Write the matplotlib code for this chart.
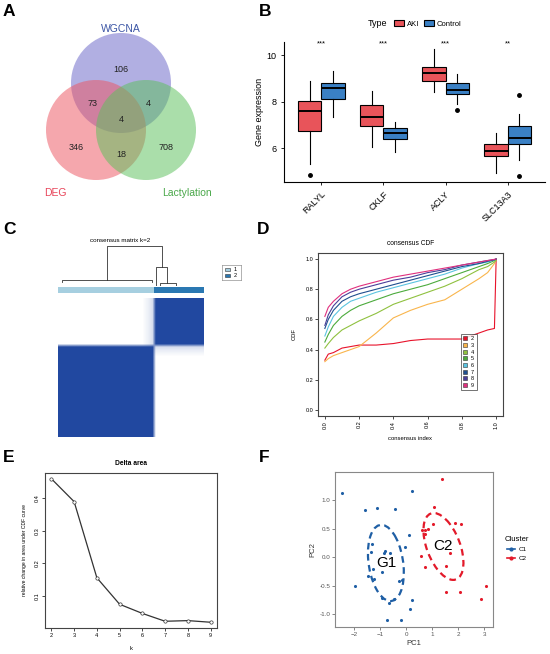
import numpy as np
import matplotlib
matplotlib.use("Agg")
import matplotlib.pyplot as plt
from matplotlib.patches import Circle, Ellipse, Patch, Rectangle
from matplotlib.lines import Line2D
from matplotlib.colors import LinearSegmentedColormap

plt.rcParams['font.family'] = ['Liberation Sans', 'DejaVu Sans']

W, H = 550, 654

# ---------------- data ----------------
# A - Venn
venn_labels = ["WGCNA", "DEG", "Lactylation"]
venn_regions = ["W", "D", "L", "WD", "WL", "DL", "WDL"]
venn_values = [106, 346, 708, 73, 4, 18, 4]

# B - gene expression boxes (whislo, q1, med, q3, whishi)
genes = ["RALYL", "CKLF", "ACLY", "SLC13A3"]
aki_stats = [[5.32, 6.73, 7.61, 8.03, 8.89],
             [6.04, 6.94, 7.35, 7.83, 8.46],
             [8.42, 8.88, 9.21, 9.47, 10.27],
             [4.92, 5.65, 5.87, 6.19, 6.65]]
ctrl_stats = [[7.34, 8.12, 8.58, 8.81, 9.32],
              [5.83, 6.40, 6.66, 6.88, 7.12],
              [7.91, 8.33, 8.50, 8.81, 9.19],
              [5.50, 6.19, 6.43, 6.96, 7.48]]
aki_fliers = [[4.86], [], [], []]
ctrl_fliers = [[], [], [7.63], [8.29, 4.79]]
signif = ["***", "***", "***", "**"]

# C - consensus matrix k=2 (cluster sizes, weak cross-consensus of edge samples)
n_c1 = 29
n_c2 = 15
c1_edge_cross = [0.05, 0.1, 0.18]

# D - consensus CDF
cdf_x = [0, 0.02, 0.05, 0.1, 0.15, 0.2, 0.3, 0.4, 0.5, 0.6, 0.7, 0.8, 0.9, 0.95, 0.99, 1.0]
cdf_k = [2, 3, 4, 5, 6, 7, 8, 9]
cdf_y = [
    [0.33, 0.37, 0.38, 0.41, 0.42, 0.43, 0.43, 0.44, 0.46, 0.47, 0.47, 0.47, 0.51, 0.53, 0.54, 1.0],
    [0.32, 0.34, 0.36, 0.38, 0.40, 0.42, 0.51, 0.61, 0.66, 0.70, 0.73, 0.80, 0.87, 0.91, 0.97, 1.0],
    [0.41, 0.44, 0.48, 0.53, 0.56, 0.59, 0.64, 0.70, 0.74, 0.78, 0.82, 0.87, 0.93, 0.95, 0.98, 0.99],
    [0.45, 0.50, 0.56, 0.62, 0.66, 0.69, 0.73, 0.77, 0.80, 0.83, 0.87, 0.91, 0.95, 0.97, 0.99, 1.0],
    [0.49, 0.55, 0.62, 0.68, 0.72, 0.74, 0.78, 0.81, 0.84, 0.87, 0.90, 0.94, 0.97, 0.98, 0.995, 1.0],
    [0.54, 0.60, 0.66, 0.72, 0.75, 0.77, 0.80, 0.83, 0.86, 0.89, 0.92, 0.95, 0.97, 0.985, 0.995, 1.0],
    [0.56, 0.63, 0.69, 0.75, 0.78, 0.80, 0.83, 0.86, 0.88, 0.91, 0.93, 0.96, 0.98, 0.99, 0.997, 1.0],
    [0.62, 0.68, 0.72, 0.77, 0.80, 0.82, 0.85, 0.88, 0.90, 0.92, 0.94, 0.96, 0.98, 0.99, 0.998, 1.0],
]
cdf_colors = ["#e8132b", "#f9b54c", "#8fc13f", "#4cab3c", "#5bc4e0", "#1f4f8f", "#4a3f9a", "#e0307e"]

# E - delta area
k_vals = [2, 3, 4, 5, 6, 7, 8, 9]
delta_area = [0.459, 0.389, 0.156, 0.075, 0.047, 0.023, 0.025, 0.020]

# F - PCA
c1_pc1 = [-2.45, 0.22, -1.57, -1.10, -0.43, 0.09, -0.06, -0.85, -0.61, -0.82, -1.33, -1.35,
          -1.28, -0.93, -1.48, -1.22, -0.28, -0.17, -1.96, -0.93, -0.48, -0.65, 0.22, 0.13,
          -0.74, -0.20]
c1_pc2 = [1.13, 1.16, 0.84, 0.87, 0.85, 0.39, 0.18, 0.08, 0.07, 0.11, 0.24, 0.10,
          -0.20, -0.26, -0.32, -0.37, -0.42, -0.39, -0.50, -0.71, -0.72, -0.80, -0.75, -0.91,
          -1.09, -1.09]
c2_pc1 = [1.39, 1.05, 0.59, 0.74, 0.82, 0.71, 1.01, 1.88, 2.09, 0.74, 0.57, 1.68, 1.53,
          1.51, 2.08, 2.86, 3.05]
c2_pc2 = [1.37, 0.88, 0.48, 0.49, 0.50, 0.42, 0.59, 0.60, 0.59, -0.17, 0.03, 0.08, -0.15,
          -0.60, -0.60, -0.72, -0.50]

# ---------------- helpers ----------------
fig = plt.figure(figsize=(W / 100, H / 100), dpi=100)


def px_axes(l, t, r, b):
    """axes placed by pixel box (left, top, right, bottom)"""
    return fig.add_axes([l / W, 1 - b / H, (r - l) / W, (b - t) / H])


def panel_letter(x, y, s):
    fig.text(x / W, 1 - y / H, s, fontsize=12.5, fontweight='bold', ha='left', va='center')


# ---------------- A: Venn ----------------
axA = px_axes(0, 0, 275, 210)
axA.set_xlim(0, 275)
axA.set_ylim(210, 0)
axA.axis('off')
centers = [(121, 83), (96, 130), (146, 130)]
fills = ["#6b67c8", "#ec5663", "#5cc05c"]
for (cx, cy), fc in zip(centers, fills):
    axA.add_patch(Circle((cx, cy), 50, facecolor=fc, alpha=0.52, edgecolor='none'))
region_pos = {"W": (121, 69), "D": (76, 147), "L": (166, 147), "WD": (93, 104),
              "WL": (148, 104), "DL": (121, 154), "WDL": (121, 120)}
for reg, val in zip(venn_regions, venn_values):
    x, y = region_pos[reg]
    axA.text(x, y, str(val), fontsize=6.5, ha='center', va='center', color='#222222')
label_pos = [(121, 29), (55, 193), (187, 193)]
label_cols = ["#3b55a5", "#e8455a", "#4aa84a"]
for lab, (x, y), c in zip(venn_labels, label_pos, label_cols):
    axA.text(x, y, lab, fontsize=7.5, ha='center', va='center', color=c)
panel_letter(3, 12, "A")

# ---------------- B: boxplot ----------------
axB = px_axes(284, 42, 545, 182)
aki_col, ctrl_col = "#e8545a", "#3a80c4"
pos = np.arange(1, len(genes) + 1)
for stats_list, fl, off, col in [(aki_stats, aki_fliers, -0.1875, aki_col),
                                  (ctrl_stats, ctrl_fliers, 0.1875, ctrl_col)]:
    bstats = []
    for s, f in zip(stats_list, fl):
        bstats.append(dict(whislo=s[0], q1=s[1], med=s[2], q3=s[3], whishi=s[4], fliers=f))
    axB.bxp(bstats, positions=pos + off, widths=0.375, patch_artist=True, showcaps=False,
            boxprops=dict(facecolor=col, edgecolor='black', linewidth=0.8),
            medianprops=dict(color='black', linewidth=1.4),
            whiskerprops=dict(color='black', linewidth=0.8),
            flierprops=dict(marker='o', markerfacecolor='black', markeredgecolor='black',
                            markersize=2.5))
for x, s in zip(pos, signif):
    axB.text(x, 10.5, s, ha='center', va='center', fontsize=5.5)
axB.set_xlim(0.4, 4.6)
axB.set_ylim(4.54, 10.56)
axB.set_yticks([6, 8, 10])
axB.set_xticks(pos)
axB.set_xticklabels(genes, rotation=45, ha='right', rotation_mode='anchor', fontsize=6.5)
axB.tick_params(labelsize=6.5, length=2, width=0.6)
axB.spines[['top', 'right']].set_visible(False)
axB.spines[['left', 'bottom']].set_linewidth(0.8)
axB.set_ylabel("Gene expression", fontsize=6.5, labelpad=2)
fig.text(378 / W, 1 - 24 / H, "Type", fontsize=6.5, ha='center', va='center')
axB.legend(handles=[Patch(facecolor=aki_col, edgecolor='black', linewidth=0.8, label='AKI'),
                    Patch(facecolor=ctrl_col, edgecolor='black', linewidth=0.8, label='Control')],
           ncol=2, frameon=False, fontsize=5.5, handlelength=1.3, handleheight=0.9,
           handletextpad=0.4, columnspacing=0.6, loc='center left',
           bbox_to_anchor=(387 / W, 1 - 24 / H), bbox_transform=fig.transFigure)
panel_letter(259, 12, "B")

# ---------------- C: consensus matrix ----------------
n = n_c1 + n_c2
member = np.array([0] * n_c1 + [1] * n_c2)
mat = (member[:, None] == member[None, :]).astype(float)
for j, v in enumerate(c1_edge_cross):
    i = n_c1 - len(c1_edge_cross) + j
    mat[i, n_c1:] = v
    mat[n_c1:, i] = v
mat = mat[::-1]  # rows drawn top = cluster 2
axC = px_axes(58, 298, 204, 437)
cmap_c = LinearSegmentedColormap.from_list("cc", ["#ffffff", "#2148a0"])
axC.imshow(mat, cmap=cmap_c, vmin=0, vmax=1, aspect='auto', interpolation='bilinear')
axC.axis('off')

axCbar = px_axes(58, 287, 204, 293)
axCbar.imshow(member[None, :], cmap=LinearSegmentedColormap.from_list("cb", ["#a6cfe0", "#2a78b2"]),
              aspect='auto', interpolation='nearest')
axCbar.axis('off')

# dendrogram: (x_left, h_left, x_right, h_right, h_join) in heatmap width / height units
dend_links = [(0.027, 0.10, 0.642, 0.10, 0.15),
              (0.700, 0.0, 0.806, 0.0, 0.08),
              (0.672, 0.0, 0.745, 0.08, 0.48),
              (0.337, 0.15, 0.715, 0.48, 1.0)]
axD0 = px_axes(58, 245, 204, 286)
for xl, hl, xr, hr, hj in dend_links:
    axD0.plot([xl, xl, xr, xr], [hl, hj, hj, hr], color='#333333', lw=0.6)
axD0.set_xlim(0, 1)
axD0.set_ylim(0, 1.02)
axD0.axis('off')
fig.text(120 / W, 1 - 241 / H, "consensus matrix k=2", fontsize=4.5, ha='center', va='center')
axCl = px_axes(222, 265, 241, 280)
axCl.set_xlim(0, 1)
axCl.set_ylim(0, 1)
axCl.set_xticks([])
axCl.set_yticks([])
for sp in axCl.spines.values():
    sp.set_linewidth(0.4)
    sp.set_color('#777777')
axCl.add_patch(Rectangle((0.15, 0.58), 0.25, 0.22, facecolor="#a6cfe0", edgecolor='#333333', lw=0.4))
axCl.add_patch(Rectangle((0.15, 0.2), 0.25, 0.22, facecolor="#2a78b2", edgecolor='#333333', lw=0.4))
axCl.text(0.62, 0.69, "1", fontsize=4, va='center')
axCl.text(0.62, 0.31, "2", fontsize=4, va='center')
panel_letter(3, 230, "C")

# ---------------- D: consensus CDF ----------------
axD = px_axes(318, 253, 503, 416)
for k, ys, c in zip(cdf_k, cdf_y, cdf_colors):
    axD.plot(cdf_x, ys, color=c, lw=0.8, label=str(k))
axD.set_xlim(-0.04, 1.04)
axD.set_ylim(-0.04, 1.04)
ticks = [0, 0.2, 0.4, 0.6, 0.8, 1.0]
axD.set_xticks(ticks)
axD.set_yticks(ticks)
axD.set_xticklabels([f"{t:.1f}" for t in ticks], rotation=90)
axD.set_yticklabels([f"{t:.1f}" for t in ticks])
axD.tick_params(labelsize=4, length=2, width=0.5, pad=1.5)
for sp in axD.spines.values():
    sp.set_linewidth(0.8)
    sp.set_color('#444444')
axD.set_title("consensus CDF", fontsize=4.8, pad=6)
axD.set_xlabel("consensus index", fontsize=4.2, labelpad=5)
axD.set_ylabel("CDF", fontsize=4.2, labelpad=6)
handles = [Line2D([], [], marker='s', ls='none', markerfacecolor=c, markeredgecolor='#333333',
                  markeredgewidth=0.4, markersize=2.6, label=str(k)) for k, c in zip(cdf_k, cdf_colors)]
legD = axD.legend(handles=handles, loc='upper left', bbox_to_anchor=(0.795, 0.503),
                  bbox_transform=axD.transData, fontsize=4, frameon=True, fancybox=False,
                  handlelength=0.8, handletextpad=0.6, borderpad=0.4, labelspacing=0.3,
                  borderaxespad=0)
legD.get_frame().set_edgecolor('#333333')
legD.get_frame().set_linewidth(0.6)
panel_letter(257, 230, "D")

# ---------------- E: delta area ----------------
axE = px_axes(45, 473, 217, 628)
axE.plot(k_vals, delta_area, color='#333333', lw=0.9, marker='o', markersize=2.4,
         markerfacecolor='white', markeredgewidth=0.5)
axE.set_xlim(1.72, 9.28)
axE.set_ylim(0.0024, 0.4766)
axE.set_xticks(k_vals)
axE.set_yticks([0.1, 0.2, 0.3, 0.4])
axE.set_yticklabels(["0.1", "0.2", "0.3", "0.4"], rotation=90, va='center')
axE.tick_params(labelsize=4, length=2, width=0.5, pad=1.5)
for sp in axE.spines.values():
    sp.set_linewidth(0.8)
    sp.set_color('#444444')
axE.set_title("Delta area", fontsize=4.8, fontweight='bold', pad=6)
axE.set_xlabel("k", fontsize=4.2, labelpad=6)
axE.set_ylabel("relative change in area under CDF curve", fontsize=3.6, labelpad=6)
panel_letter(3, 457, "E")

# ---------------- F: PCA ----------------
axF = px_axes(335, 472, 493, 627)
c1_col, c2_col = "#1f5fa5", "#e31a2a"
for xs, ys, col, lab in [(c1_pc1, c1_pc2, c1_col, "C1"), (c2_pc1, c2_pc2, c2_col, "C2")]:
    xs = np.array(xs)
    ys = np.array(ys)
    axF.scatter(xs, ys, s=5, color=col, linewidths=0, zorder=3)
    cov = np.cov(xs, ys)
    vals, vecs = np.linalg.eigh(cov)
    ang = np.degrees(np.arctan2(vecs[1, 1], vecs[0, 1]))
    scale = 2 * 1.0
    axF.add_patch(Ellipse((xs.mean(), ys.mean()), scale * np.sqrt(vals[1]), scale * np.sqrt(vals[0]),
                          angle=ang, fill=False, edgecolor=col, lw=1.6, ls=(0, (3, 2))))
    axF.text(xs.mean(), ys.mean(), "G1" if lab == "C1" else "C2", fontsize=11,
             ha='center', va='center', zorder=4)
axF.set_xlim(-2.73, 3.33)
axF.set_ylim(-1.22, 1.50)
axF.set_xticks([-2, -1, 0, 1, 2, 3])
axF.set_yticks([-1.0, -0.5, 0.0, 0.5, 1.0])
axF.set_yticklabels(["-1.0", "-0.5", "0.0", "0.5", "1.0"])
axF.tick_params(labelsize=4.5, length=2, width=0.5, pad=1.5, colors='#555555')
for sp in axF.spines.values():
    sp.set_linewidth(0.8)
    sp.set_color('#888888')
axF.set_xlabel("PC1", fontsize=5.5, labelpad=2, color='#333333')
axF.set_ylabel("PC2", fontsize=5.5, labelpad=2, color='#333333')
hF = [Line2D([], [], color=c1_col, lw=1.2, marker='o', markersize=2, label='C1'),
      Line2D([], [], color=c2_col, lw=1.2, marker='o', markersize=2, label='C2')]
axF.legend(handles=hF, title="Cluster", loc='upper left', bbox_to_anchor=(499 / W, 1 - 530 / H),
           bbox_transform=fig.transFigure, frameon=False, fontsize=4.5, title_fontsize=5.5,
           handlelength=1.2, handletextpad=0.6, labelspacing=0.6)
panel_letter(259, 457, "F")

fig.savefig("out.png", dpi=100)
